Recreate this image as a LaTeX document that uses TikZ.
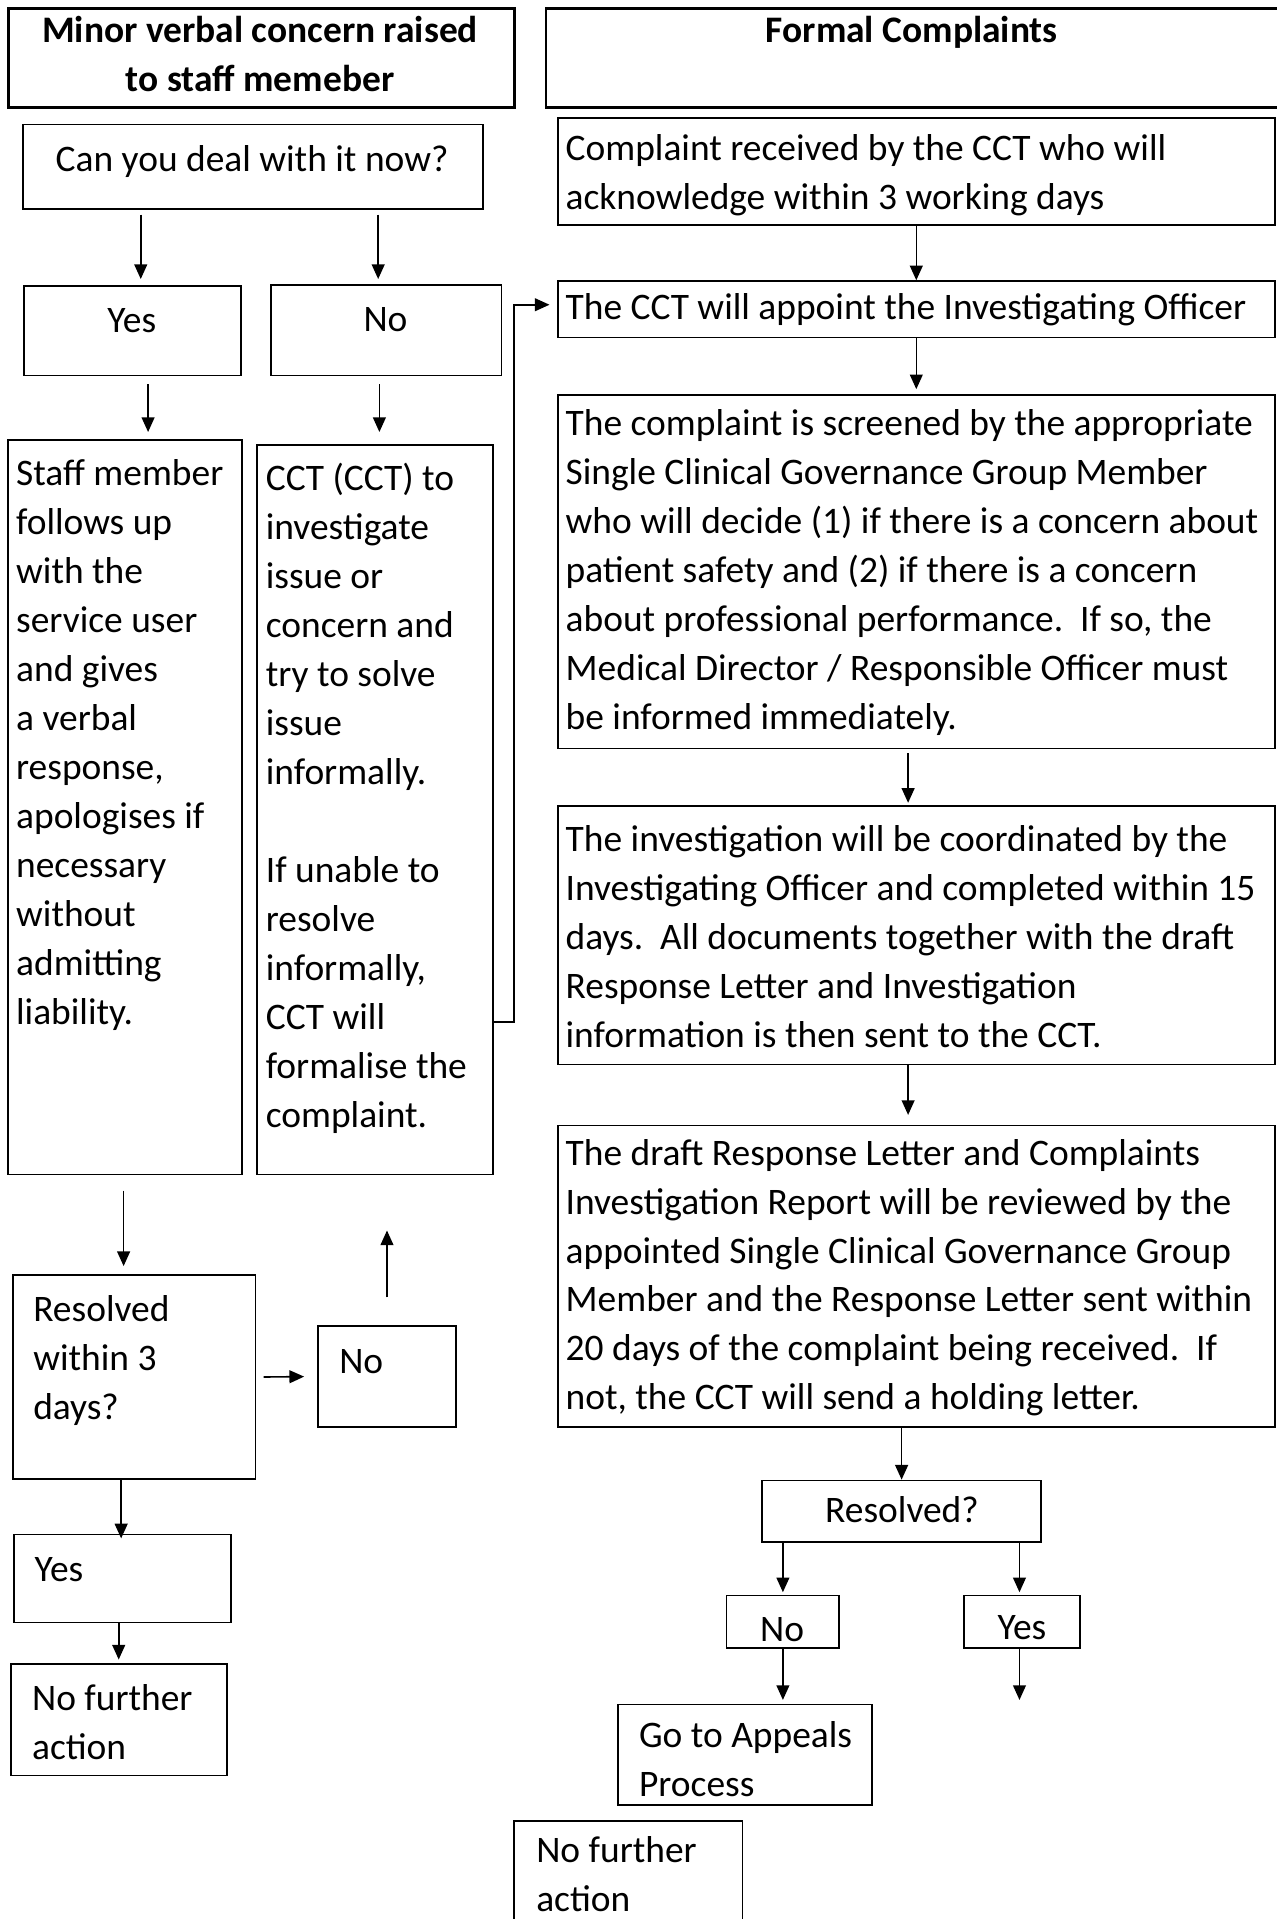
\documentclass[tikz,border=0pt]{standalone}
\usepackage{fontspec}
\setmainfont{Carlito}
\usetikzlibrary{arrows.meta}
\newcommand\ltxt[1]{\begin{tabular}[t]{@{}l@{}}#1\end{tabular}}
\newcommand\ctxt[1]{\begin{tabular}[t]{@{}c@{}}#1\end{tabular}}
\begin{document}
\begin{tikzpicture}[x=1pt,y=-1pt,
  box/.style={draw, line width=1.4pt, inner sep=0pt, anchor=north west},
  titlebox/.style={draw, line width=2.3pt, inner sep=0pt, anchor=north west},
  txt/.style={inner sep=0pt, anchor=base west, font=\fontsize{30.6}{40}\selectfont},
  ctr/.style={inner sep=0pt, anchor=base, font=\fontsize{30.6}{40}\selectfont},
  arr/.style={line width=1.3pt, -{Triangle[width=10.5pt,length=12pt]}},
]
\fill[white] (0,0) rectangle (1043,1568);
\useasboundingbox (0,0) rectangle (1043,1568);

% ---- title boxes
\node[titlebox, minimum width=413pt, minimum height=81pt] (tl) at (6,6) {};
\node[ctr, font=\fontsize{30.6}{40}\selectfont\bfseries] (tl-t) at (212.5,35) {\ctxt{Minor verbal concern raised\\to staff memeber}};
\node[titlebox, minimum width=603pt, minimum height=81pt] (tr) at (445,6) {};
\node[ctr, font=\fontsize{30.6}{40}\selectfont\bfseries] (tr-t) at (745,35) {Formal Complaints};

% ---- left column
\node[box, minimum width=376pt, minimum height=69pt] (can) at (18,101) {};
\node[ctr] (can-t) at (206,140) {Can you deal with it now?};
\node[box, minimum width=177pt, minimum height=73pt] (yes1) at (19,233) {};
\node[ctr] (yes1-t) at (107.7,272) {Yes};
\node[box, minimum width=188pt, minimum height=74pt] (no1) at (221,232) {};
\node[ctr] (no1-t) at (315,271) {No};

\node[box, minimum width=191pt, minimum height=600pt] (staff) at (6,359) {};
\node[txt] (staff-t) at (13,397) {\ltxt{Staff member\\follows up\\with the\\service user\\and gives\\a verbal\\response,\\apologises if\\necessary\\without\\admitting\\liability.}};
\node[box, minimum width=193pt, minimum height=596pt] (cct) at (209,363) {};
\node[txt] (cct-t) at (217,401) {\ltxt{CCT (CCT) to\\investigate\\issue or\\concern and\\try to solve\\issue\\informally.\\ \\If unable to\\resolve\\informally,\\CCT will\\formalise the\\complaint.}};

\node[box, minimum width=198pt, minimum height=167pt] (res3) at (10,1041) {};
\node[txt] (res3-t) at (27,1080) {\ltxt{Resolved\\within 3\\days?}};
\node[box, minimum width=113pt, minimum height=82pt] (no3) at (259,1083) {};
\node[txt] (no3-t) at (277,1122) {No};
\node[box, minimum width=177pt, minimum height=72pt] (yes3) at (11,1253) {};
\node[txt] (yes3-t) at (28,1292) {Yes};
\node[box, minimum width=177pt, minimum height=91pt] (nfa1) at (8,1359) {};
\node[txt] (nfa1-t) at (26,1398) {\ltxt{No further\\action}};

% ---- right column
\node[box, minimum width=586pt, minimum height=87pt] (r1) at (455,96) {};
\node[txt] (r1-t) at (462,131) {\ltxt{Complaint received by the CCT who will\\acknowledge within 3 working days}};
\node[box, minimum width=586pt, minimum height=46pt] (r2) at (455,229) {};
\node[txt] (r2-t) at (462,261) {The CCT will appoint the Investigating Officer};
\node[box, minimum width=586pt, minimum height=289pt] (r3) at (455,322) {};
\node[txt] (r3-t) at (462,356) {\ltxt{The complaint is screened by the appropriate\\Single Clinical Governance Group Member\\who will decide (1) if there is a concern about\\patient safety and (2) if there is a concern\\about professional performance.\ \ If so, the\\Medical Director / Responsible Officer must\\be informed immediately.}};
\node[box, minimum width=586pt, minimum height=211pt] (r4) at (455,658) {};
\node[txt] (r4-t) at (462,696) {\ltxt{The investigation will be coordinated by the\\Investigating Officer and completed within 15\\days.\ \ All documents together with the draft\\Response Letter and Investigation\\information is then sent to the CCT.}};
\node[box, minimum width=586pt, minimum height=246pt] (r5) at (455,919) {};
\node[txt] (r5-t) at (462,952) {\ltxt{The draft Response Letter and Complaints\\Investigation Report will be reviewed by the\\appointed Single Clinical Governance Group\\Member and the Response Letter sent within\\20 days of the complaint being received.\ \ If\\not, the CCT will send a holding letter.}};

\node[box, minimum width=228pt, minimum height=50pt] (res) at (622,1209) {};
\node[ctr] (res-t) at (737,1244) {Resolved?};
\node[box, minimum width=92pt, minimum height=43pt] (noR) at (593,1303) {};
\node[ctr] (noR-t) at (639,1341) {No};
\node[box, minimum width=95pt, minimum height=43pt] (yesR) at (787,1303) {};
\node[ctr] (yesR-t) at (835,1340) {Yes};
\node[box, minimum width=208pt, minimum height=82pt] (app) at (504,1392) {};
\node[txt] (app-t) at (522,1428) {\ltxt{Go to Appeals\\Process}};
\node[box, minimum width=187pt, minimum height=100pt] (nfa2) at (419,1487) {};
\node[txt] (nfa2-t) at (438,1522) {\ltxt{No further\\action}};

% ---- coordinates for connector positions
\coordinate (ax1) at (115,0);
\coordinate (ax2) at (309,0);
\coordinate (ax3) at (121,0);
\coordinate (ax4) at (310,0);
\coordinate (ax5) at (101,0);
\coordinate (ax6) at (99,0);
\coordinate (ax7) at (97,0);
\coordinate (rx1) at (742,0);
\coordinate (rx2) at (833,0);
\coordinate (j1) at (420,835);
\coordinate (j2) at (420,249);
\coordinate (yend) at (833,1389);

% ---- connectors left
\draw[arr, shorten <=4pt, shorten >=5pt] (can.south -| ax1) -- (yes1.north -| ax1);
\draw[arr, shorten <=4pt, shorten >=4pt] (can.south -| ax2) -- (no1.north -| ax2);
\draw[arr, shorten <=6.5pt, shorten >=6pt] (yes1.south -| ax3) -- (staff.north -| ax3);
\draw[arr, shorten <=6.5pt, shorten >=10pt] (no1.south -| ax4) -- (cct.north -| ax4);
\draw[arr, shorten >=6pt] (cct.east |- j1) -- (j1) -- (j2) -- (r2.west |- j2);
\draw[arr, shorten <=12.5pt, shorten >=6.5pt] (staff.south -| ax5) -- (res3.north -| ax5);
\draw[arr, shorten <=6pt, shorten >=10.5pt] (res3.east) -- (no3.west);
\draw[arr, shorten <=23pt, shorten >=45pt] (no3.north) -- (cct.south -| no3.north);
\draw[arr, shorten >=-4pt] (res3.south -| ax6) -- (yes3.north -| ax6);
\draw[arr, shorten >=3pt] (yes3.south -| ax7) -- (nfa1.north -| ax7);

% ---- connectors right
\draw[arr] (r1.south) -- (r2.north);
\draw[arr, shorten >=4pt] (r2.south) -- (r3.north);
\draw[arr, shorten <=3pt, shorten >=2pt] (r3.south -| rx1) -- (r4.north -| rx1);
\draw[arr, shorten >=8pt] (r4.south -| rx1) -- (r5.north -| rx1);
\draw[arr] (res.north |- r5.south) -- (res.north);
\draw[arr, shorten >=2pt] (noR.north |- res.south) -- (noR.north);
\draw[arr, shorten >=2pt] (res.south -| rx2) -- (yesR.north -| rx2);
\draw[arr, shorten >=3pt] (noR.south) -- (app.north -| noR.south);
\draw[arr] (yesR.south -| yend) -- (yend);
\end{tikzpicture}
\end{document}
